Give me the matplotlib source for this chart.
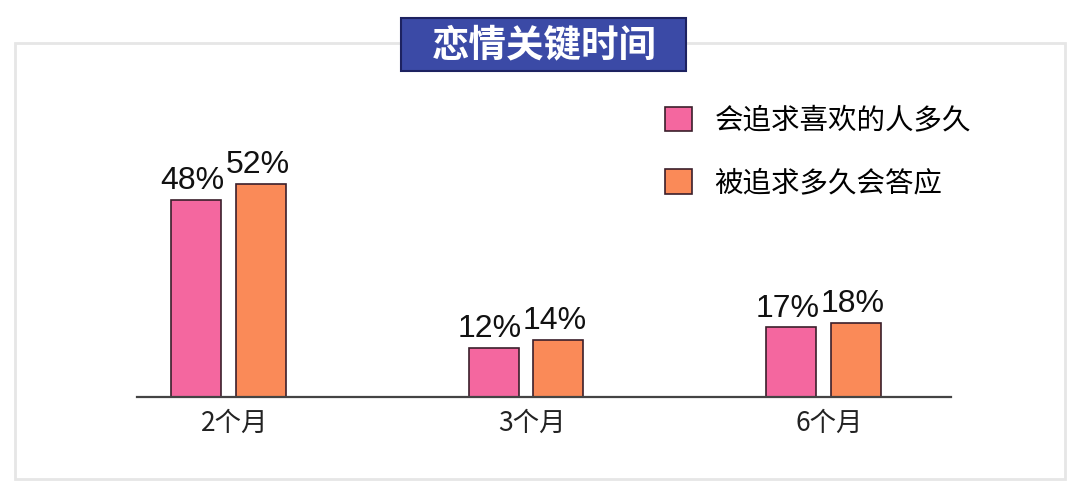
import matplotlib
matplotlib.use('Agg')
import matplotlib.pyplot as plt
import numpy as np
from matplotlib.patches import Rectangle

plt.rcParams['font.family'] = ['Noto Sans CJK SC', 'DejaVu Sans']

# data
categories = ['2个月', '3个月', '6个月']
pursue = [48, 12, 17]      # 会追求喜欢的人多久
accept = [52, 14, 18]      # 被追求多久会答应
series_names = ['会追求喜欢的人多久', '被追求多久会答应']
title = '恋情关键时间'

pink = '#f4679f'
orange = '#fa8a58'
edge = '#3b1f2b'

W, H = 1080, 498
DPI = 100
fig = plt.figure(figsize=(W / DPI, H / DPI), dpi=DPI)

# outer light frame
fig.patches.append(Rectangle((15 / W, 1 - 479 / H), (1065 - 15) / W, (479 - 43) / H,
                             transform=fig.transFigure, fill=False,
                             edgecolor='#e6e6e6', linewidth=2, zorder=0))

ax = fig.add_axes([137 / W, 1 - 397 / H, (951 - 137) / W, (397 - 100) / H])
x = np.arange(len(categories))
w = 0.168
off = 0.109
b1 = ax.bar(x - off, pursue, w, color=pink, edgecolor=edge, linewidth=1.2, label=series_names[0])
b2 = ax.bar(x + off, accept, w, color=orange, edgecolor=edge, linewidth=1.2, label=series_names[1])

for bars, vals in ((b1, pursue), (b2, accept)):
    for r, v in zip(bars, vals):
        ax.text(r.get_x() + r.get_width() / 2 - 0.012, v + 0.9, f'{v}%',
                ha='center', va='bottom', fontsize=23, family='Liberation Sans',
                color='#111111')

ax.set_xlim(-0.3076, 2.4286)
ax.set_ylim(0, 72.4)
ax.set_xticks(x + 0.02)
ax.set_xticklabels(categories, fontsize=19, color='#222222')
ax.tick_params(axis='x', length=0, pad=9)
ax.set_yticks([])
for s in ['top', 'left', 'right']:
    ax.spines[s].set_visible(False)
ax.spines['bottom'].set_color('#444444')
ax.spines['bottom'].set_linewidth(1.6)
ax.patch.set_alpha(0)

leg = fig.legend(handles=[b1, b2], labels=series_names, loc='upper left',
                 bbox_to_anchor=(639 / W, 1 - 80 / H), frameon=False,
                 fontsize=20.5, handlelength=0.95, handleheight=0.95,
                 labelspacing=1.15, handletextpad=0.8)

# title box
fig.patches.append(Rectangle((401 / W, 1 - 71 / H), (686 - 401) / W, (71 - 18) / H,
                             transform=fig.transFigure, facecolor='#3b4aa6',
                             edgecolor='#1d2260', linewidth=1.5, zorder=2))
fig.text(544 / W, 1 - 45 / H, title, ha='center', va='center', fontsize=27,
         fontweight='heavy', color='white', zorder=3)

fig.savefig('out.png', dpi=DPI, facecolor='white')
